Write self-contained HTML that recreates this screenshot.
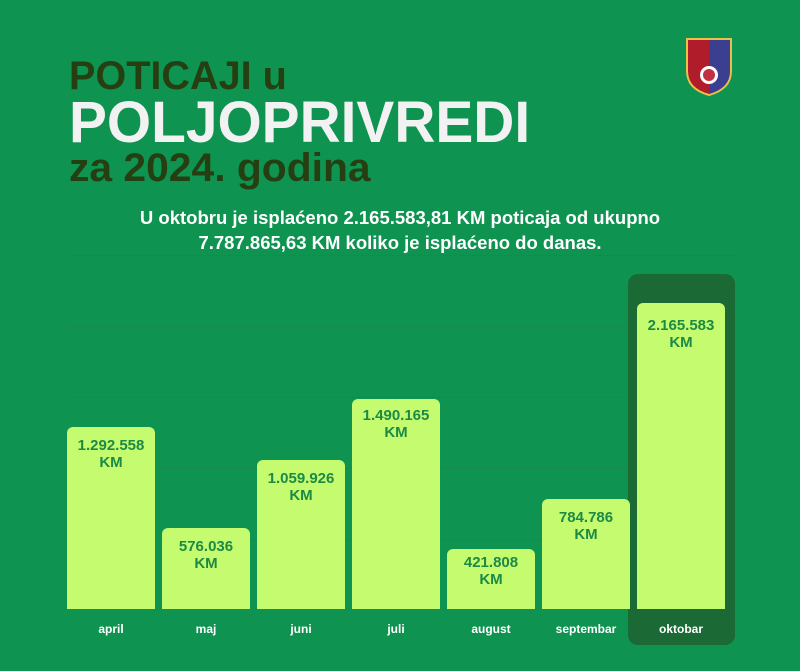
<!DOCTYPE html>
<html><head><meta charset="utf-8"><style>
body{margin:0;width:800px;height:671px;background:#0e9350;position:relative;overflow:hidden;font-family:"Liberation Sans",sans-serif}
.t{position:absolute;left:69px;font-weight:bold;white-space:nowrap;transform-origin:left top;line-height:1}
.g{position:absolute;left:67px;width:668px;height:1px;background:#1a8a48}
.bar{position:absolute;background:#c4fb6f;border-radius:6px 6px 0 0;width:88px;bottom:62px;text-align:center;color:#1c8a45;font-weight:bold;font-size:15px;line-height:17px;padding-top:10px;box-sizing:border-box}
.lab{position:absolute;top:622px;width:88px;text-align:center;color:#fff;font-weight:bold;font-size:12px}
.sub{position:absolute;left:0;width:800px;text-align:center;color:#fff;font-weight:bold;font-size:18.5px}
</style></head><body>
<div class="t" style="top:56px;font-size:40px;color:#263f12;transform:scaleX(0.99)">POTICAJI u</div>
<div class="t" style="top:94px;font-size:58px;color:#f2f2f2;transform:scaleX(0.98)">POLJOPRIVREDI</div>
<div class="t" style="top:148px;font-size:40px;color:#263f12;transform:scaleX(1.02)">za 2024. godina</div>
<div class="sub" style="top:207px">U oktobru je isplaćeno 2.165.583,81 KM poticaja od ukupno</div>
<div class="sub" style="top:232px">7.787.865,63 KM koliko je isplaćeno do danas.</div>
<svg style="position:absolute;left:685px;top:37px" width="48" height="60" viewBox="0 0 48 60">
<path d="M2 2H46V34Q46 52 24 58Q2 52 2 34Z" fill="#b01c2a" stroke="#e8c04a" stroke-width="2"/>
<path d="M24 3H45V34Q45 51 24 57Z" fill="#3a3f8f"/>
<circle cx="24" cy="38" r="9" fill="#fff"/><circle cx="24" cy="38" r="6" fill="#c03040"/>
</svg>
<div class="g" style="top:255px"></div><div class="g" style="top:326px"></div><div class="g" style="top:397px"></div><div class="g" style="top:468px"></div><div class="g" style="top:539px"></div>
<div style="position:absolute;left:628px;top:274px;width:107px;height:371px;background:#1b6a35;border-radius:10px"></div>
<div class="bar" style="left:67px;height:182px">1.292.558<br>KM</div>
<div class="bar" style="left:162px;height:81px">576.036<br>KM</div>
<div class="bar" style="left:257px;height:149px">1.059.926<br>KM</div>
<div class="bar" style="left:352px;height:210px;padding-top:8px">1.490.165<br>KM</div>
<div class="bar" style="left:447px;height:60px;padding-top:5px">421.808<br>KM</div>
<div class="bar" style="left:542px;height:110px">784.786<br>KM</div>
<div class="bar" style="left:637px;height:306px;padding-top:14px">2.165.583<br>KM</div>
<div class="lab" style="left:67px">april</div><div class="lab" style="left:162px">maj</div><div class="lab" style="left:257px">juni</div><div class="lab" style="left:352px">juli</div><div class="lab" style="left:447px">august</div><div class="lab" style="left:542px">septembar</div><div class="lab" style="left:637px">oktobar</div>
</body></html>
